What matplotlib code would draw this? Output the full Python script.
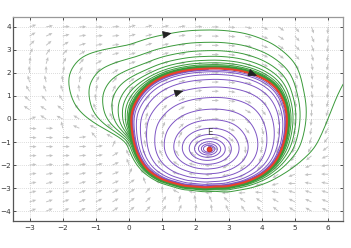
import numpy as np
import matplotlib
matplotlib.use("Agg")
import matplotlib.pyplot as plt

# ---------------- data ----------------
eq_point = (2.4, -1.3)                      # equilibrium E
# limit cycle (red)
cycle_x = [0.09, 0.06, 0.09, 0.15, 0.27, 0.51, 0.87, 1.39, 1.99, 2.59, 3.20, 3.71, 4.10, 4.40,
           4.61, 4.73, 4.76, 4.70, 4.55, 4.31, 3.95, 3.50, 2.89, 2.29, 1.69, 1.18, 0.78, 0.48, 0.27]
cycle_y = [0.39, -0.04, -0.48, -1.00, -1.57, -2.13, -2.52, -2.78, -2.91, -2.91, -2.83, -2.61, -2.30, -1.87,
           -1.26, -0.57, 0.04, 0.61, 1.13, 1.52, 1.83, 2.04, 2.17, 2.17, 2.09, 1.91, 1.65, 1.30, 0.91]
# distance of the first outer (green) loop from the cycle, by screen angle around E (deg)
outer_ang = [175, 169, 164, 153, 144, 136, 128, 118, 110, 90, 72, 59, 44, 32, 17, 0, -20, -45, -90, -135, -160]
outer_off = [0.30, 1.45, 2.35, 3.00, 2.90, 2.30, 1.81, 1.69, 1.62, 1.57, 1.55, 1.47, 1.26, 0.93, 0.82,
             0.70, 0.35, 0.20, 0.12, 0.12, 0.15]
inner_semi = (2.95, 1.90)                   # small loops around E (screen x, y extent)
green_start = (6.45, 1.5)                   # where the outer trajectory enters
purple_start_rho = 0.06
green_turns = 20
purple_turns = 15
rate_in = 0.0535                            # growth of the inner spiral per radian
rate_out = 0.061                            # decay of the outer spiral per radian
rate_entry = 15.0
arrow_green = (1.14, 3.57)
arrow_purple = (1.60, 1.04)
arrow_cycle = (3.73, 1.74)
label_E = (2.44, -0.58)
xticks = list(range(-3, 7))
yticks = list(range(-4, 5))
xlim = (-3.5, 6.45)
ylim = (-4.43, 4.43)
quiver_x = np.arange(-3.0, 6.01, 0.5)
quiver_y = np.arange(-4.0, 4.01, 0.4)

# ---------------- figure ----------------
W, H = 351, 248
fig = plt.figure(figsize=(W / 100, H / 100), dpi=100)
ax_rect = [13 / W, 1 - 221 / H, 330 / W, 204 / H]
ax = fig.add_axes(ax_rect)
ax.set_xlim(*xlim)
ax.set_ylim(*ylim)
px_per_x = ax_rect[2] * W / (xlim[1] - xlim[0])
px_per_y = ax_rect[3] * H / (ylim[1] - ylim[0])
kx = px_per_x / px_per_y
xE, yE = eq_point


def periodic_profile(ang_deg, vals, sigma, log=False):
    grid = np.arange(0, 360, 0.5)
    a = np.mod(np.asarray(ang_deg, float), 360)
    v = np.asarray(vals, float)
    if log:
        v = np.log(v)
    o = np.argsort(a)
    f = np.interp(grid, a[o], v[o], period=360)
    k = np.arange(-4 * sigma, 4 * sigma + 0.25, 0.5)
    w = np.exp(-k ** 2 / (2 * sigma ** 2))
    w /= w.sum()
    n = len(k) // 2
    fs = np.convolve(np.concatenate([f[-n:], f, f[:n]]), w, mode="valid")
    if log:
        fs = np.exp(fs)
    return lambda phi: np.interp(np.mod(np.degrees(phi), 360), grid, fs, period=360)


cx = (np.array(cycle_x) - xE) * kx
cy = np.array(cycle_y) - yE
R1 = periodic_profile(np.degrees(np.arctan2(cy, cx)), np.hypot(cx, cy), 4)
psi_loop = np.radians(np.mod(175 - np.array(outer_ang), 360))
D = periodic_profile(outer_ang, np.array(outer_off) / np.exp(-rate_out * psi_loop), 3, log=True)
ae, be = inner_semi


def Re(phi):
    return 1 / np.sqrt((np.cos(phi) / ae) ** 2 + (np.sin(phi) / be) ** 2)


def r_in(phi, rho):
    return rho * ((1 - rho ** 2) * Re(phi) + rho ** 2 * R1(phi))


def r_out(phi, s):
    return R1(phi) + D(phi) * s


def f_rho(rho):
    return rate_in * rho * (1 - rho ** 2)


def f_s(s):
    return -rate_out * s * (1 + rate_entry * np.maximum(s - 1, 0) ** 2)


def to_data(phi, r):
    return xE + r * np.cos(phi) / kx, yE + r * np.sin(phi)


def rk4(f, y0, h, n):
    ys = np.empty(n + 1)
    ys[0] = y = y0
    for i in range(n):
        k1 = f(y); k2 = f(y + h / 2 * k1); k3 = f(y + h / 2 * k2); k4 = f(y + h * k3)
        y = y + h / 6 * (k1 + 2 * k2 + 2 * k3 + k4)
        ys[i + 1] = y
    return ys


h = 0.01
# outer trajectory
gX, gY = (green_start[0] - xE) * kx, green_start[1] - yE
phi0 = np.arctan2(gY, gX)
s0 = (np.hypot(gX, gY) - R1(phi0)) / D(phi0)
n = int(green_turns * 2 * np.pi / h)
s_tr = rk4(f_s, s0, h, n)
phi_tr = phi0 - h * np.arange(n + 1)
gx, gy = to_data(phi_tr, r_out(phi_tr, s_tr))

# inner trajectory
n = int(purple_turns * 2 * np.pi / h)
rho_tr = rk4(f_rho, purple_start_rho, h, n)
phi_tr2 = np.pi / 2 - h * np.arange(n + 1)
px_, py_ = to_data(phi_tr2, r_in(phi_tr2, rho_tr))

# limit cycle
phic = np.linspace(0, 2 * np.pi, 721)
lx, ly = to_data(phic, R1(phic))

# direction field
QX, QY = np.meshgrid(quiver_x, quiver_y)
Xt, Yt = (QX - xE) * kx, QY - yE
phi = np.arctan2(Yt, Xt)
r = np.hypot(Xt, Yt)
inside = r < R1(phi)
dh = 1e-3
s = (r - R1(phi)) / D(phi)
ro = r_out(phi - dh, s + dh * f_s(s))
lo, hi = np.zeros_like(r), np.ones_like(r)
for _ in range(50):
    mid = (lo + hi) / 2
    big = r_in(phi, mid) > r
    hi = np.where(big, mid, hi)
    lo = np.where(big, lo, mid)
rho = (lo + hi) / 2
ri = r_in(phi - dh, rho + dh * f_rho(rho))
r1 = np.where(inside, ri, ro)
dX = r1 * np.cos(phi - dh) - Xt
dY = r1 * np.sin(phi - dh) - Yt
nrm = np.hypot(dX, dY) + 1e-12
L = 7.0 / px_per_y
U = L * dX / nrm / kx
V = L * dY / nrm
ax.quiver(QX, QY, U, V, angles="xy", scale_units="xy", scale=1, color="#c2c2c2",
          width=0.0028, headwidth=3.5, headlength=4, headaxislength=3.5, zorder=1)

ax.plot(gx, gy, color="#3a9a3a", lw=0.7, zorder=3)
ax.plot(px_, py_, color="#7e55c4", lw=0.7, zorder=3)
ax.plot(lx, ly, color="#e8412c", lw=1.5, zorder=4)
ax.plot([xE], [yE], "o", ms=3.5, color="#e8412c", mec="#c02010", mew=0.5, zorder=5)
ax.text(label_E[0], label_E[1], "E", fontsize=6, color="#444444", ha="center", va="center", zorder=6)


def add_arrow(cxs, cys, target):
    d = np.hypot((cxs - target[0]) * px_per_x, (cys - target[1]) * px_per_y)
    i = int(np.argmin(d))
    j = min(i + 4, len(cxs) - 1)
    ax.annotate("", xy=(cxs[j], cys[j]), xytext=(cxs[i], cys[i]),
                arrowprops=dict(arrowstyle="-|>,head_length=0.7,head_width=0.3", color="#222222",
                                lw=0.5, shrinkA=0, shrinkB=0, mutation_scale=8), zorder=7)


add_arrow(gx, gy, arrow_green)
add_arrow(px_, py_, arrow_purple)
add_arrow(lx[::-1], ly[::-1], arrow_cycle)

ax.set_xticks(xticks)
ax.set_yticks(yticks)
ax.grid(True, color="#bbbbbb", lw=0.5, ls=(0, (1, 2)))
ax.set_axisbelow(True)
ax.tick_params(direction="in", length=2.5, width=0.6, labelsize=5.2, colors="#333333",
               top=True, right=True)
ax.tick_params(axis="y", pad=1.5)
ax.tick_params(axis="x", pad=3)
for side, sp in ax.spines.items():
    sp.set_linewidth(0.9)
    sp.set_color("#555555" if side in ("left", "bottom") else "#999999")

fig.savefig("out.png", dpi=100)
